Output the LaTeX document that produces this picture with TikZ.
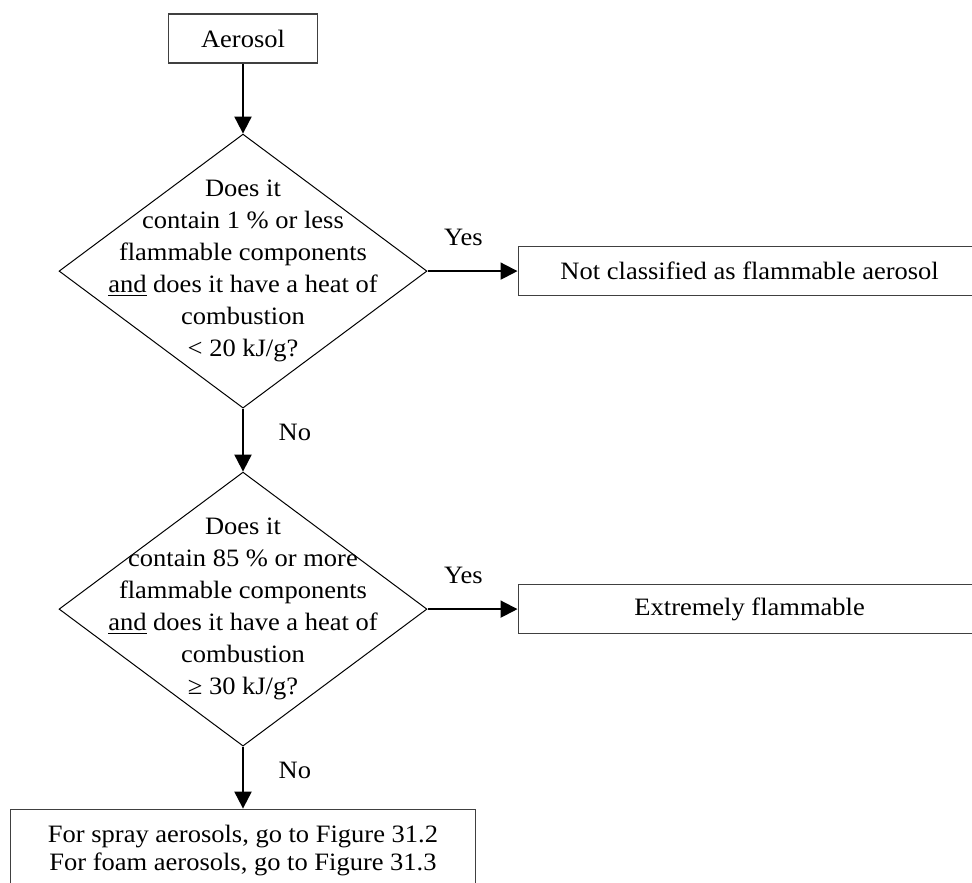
\documentclass[tikz,border=0pt]{standalone}
\usepackage{fontspec}
\setmainfont{Liberation Serif}[FakeStretch=1.06]
\usepackage{tikz}
\usetikzlibrary{arrows.meta,positioning,shapes.geometric}

\begin{document}
\begin{tikzpicture}[
font=\fontsize{12.5pt}{16pt}\selectfont,
box/.style={rectangle,draw=black!75,line width=0.6pt,align=center,minimum height=24.5pt,inner sep=0pt},
decision/.style={diamond,draw,line width=0.5pt,minimum width=184pt,minimum height=137pt,inner sep=0pt},
arr/.style={-{Triangle[length=8.5pt,width=8.5pt]},line width=1pt}
]
\useasboundingbox (0,0) rectangle (486pt,-441pt);
\node[box,minimum width=74.5pt] (aerosol) at (121.5pt,-19.25pt) {Aerosol};
\node[decision,below=35pt of aerosol] (low) {};
\node[align=center] (lowtext) at (low) {Does it\\contain 1 \% or less\\flammable components\\\underline{and} does it have a heat of\\combustion\\< 20 kJ/g?};
\node[box,minimum width=231.5pt,right=45pt of low] (notcls) {Not classified as flammable aerosol};
\node[decision,below=31.5pt of low] (high) {};
\node[align=center] (hightext) at (high) {Does it\\contain 85 \% or more\\flammable components\\\underline{and} does it have a heat of\\combustion\\≥ 30 kJ/g?};
\node[box,minimum width=231.5pt,right=45pt of high] (extreme) {Extremely flammable};
\node[box,minimum width=232.5pt,minimum height=41pt,below=31pt of high,font=\fontsize{12.5pt}{14pt}\selectfont] (goto) {For spray aerosols, go to Figure 31.2\\For foam aerosols, go to Figure 31.3};

\draw[arr] (aerosol) -- (low);
\draw[arr] (low) -- node[pos=0.4,above=9pt]{Yes} (notcls);
\draw[arr] (low) -- node[pos=0.38,right=14pt]{No} (high);
\draw[arr] (high) -- node[pos=0.4,above=9pt]{Yes} (extreme);
\draw[arr] (high) -- node[pos=0.38,right=14pt]{No} (goto);
\end{tikzpicture}
\end{document}
